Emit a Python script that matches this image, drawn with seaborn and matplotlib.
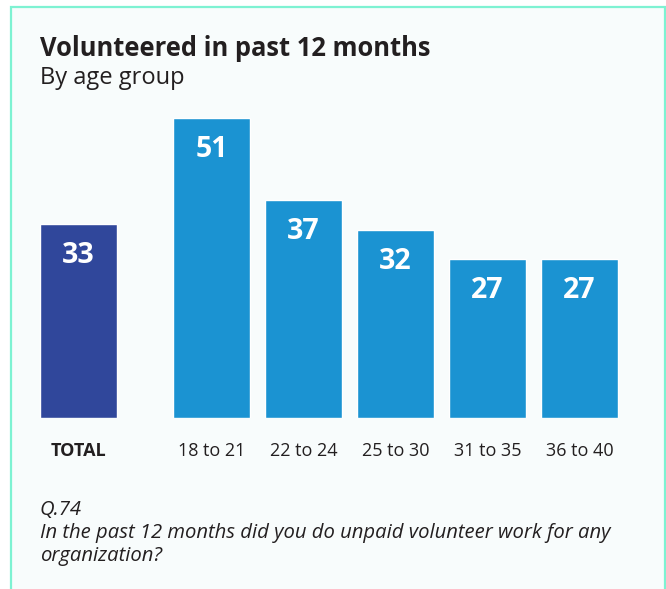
import seaborn as sns
import pandas as pd
from matplotlib import pyplot as plt
from matplotlib.patches import Rectangle

# Data
total_label = ["TOTAL"]
total_value = [33]
age_groups = ["18 to 21", "22 to 24", "25 to 30", "31 to 35", "36 to 40"]
age_values = [51, 37, 32, 27, 27]

TITLE = "Volunteered in past 12 months"
SUBTITLE = "By age group"
NOTE_LINES = ["Q.74",
              "In the past 12 months did you do unpaid volunteer work for any",
              "organization?"]

TEXT_COLOR = "#231F20"
TOTAL_COLOR = "#30479B"
AGE_COLOR = "#1B93D2"
BG_COLOR = "#F8FCFC"
BORDER_COLOR = "#7EF2D2"

sns.set_style("white")
plt.rcParams['font.family'] = ['Open Sans', 'DejaVu Sans']

W, H = 666, 589
fig = plt.figure(figsize=(W / 100, H / 100), dpi=100)
fig.patch.set_facecolor("white")

# card background with mint border
fig.patches.append(Rectangle((11 / W, -0.05), (665 - 11) / W, 1.05 - 7 / H,
                             transform=fig.transFigure, facecolor=BG_COLOR,
                             edgecolor=BORDER_COLOR, linewidth=1.6, zorder=-10))

y_bottom, y_top = 418, 118
ymax = max(age_values)
ax_b = (H - y_bottom) / H
ax_h = (y_bottom - y_top) / H

ax1 = fig.add_axes([32.5 / W, ax_b, 92 / W, ax_h])
ax2 = fig.add_axes([165.5 / W, ax_b, 460 / W, ax_h])

df_total = pd.DataFrame({"group": total_label, "value": total_value})
df_age = pd.DataFrame({"group": age_groups, "value": age_values})

bar_w = 77 / 92
sns.barplot(data=df_total, x="group", y="value", color=TOTAL_COLOR,
            width=bar_w, saturation=1, ax=ax1)
sns.barplot(data=df_age, x="group", y="value", color=AGE_COLOR,
            width=bar_w, saturation=1, ax=ax2)

for ax, n in ((ax1, 1), (ax2, len(age_groups))):
    ax.set_facecolor("none")
    ax.set_ylim(0, ymax)
    ax.set_xlim(-0.5, n - 0.5)
    ax.set_xlabel("")
    ax.set_ylabel("")
    ax.set_yticks([])
    for s in ax.spines.values():
        s.set_visible(False)
    ax.tick_params(axis="x", length=0, pad=17, labelsize=13, labelcolor=TEXT_COLOR)
    for p in ax.patches:
        ax.annotate(f"{p.get_height():.0f}",
                    (p.get_x() + p.get_width() / 2, p.get_height()),
                    xytext=(0, -22.5), textcoords="offset points",
                    ha="center", va="center", color="white",
                    fontsize=20.5, fontweight="bold")

for lbl in ax1.get_xticklabels():
    lbl.set_fontweight("bold")

fig.text(40 / W, 1 - 48.5 / H, TITLE, fontsize=18.4, fontweight="bold",
         color=TEXT_COLOR, ha="left", va="center")
fig.text(40 / W, 1 - 78.5 / H, SUBTITLE, fontsize=17,
         color=TEXT_COLOR, ha="left", va="center")
for i, line in enumerate(NOTE_LINES):
    fig.text(40 / W, 1 - (509.5 + 23.5 * i) / H, line, fontsize=14.6,
             style="italic", color=TEXT_COLOR, ha="left", va="center")

fig.savefig("out.png", dpi=100, facecolor=fig.get_facecolor())
